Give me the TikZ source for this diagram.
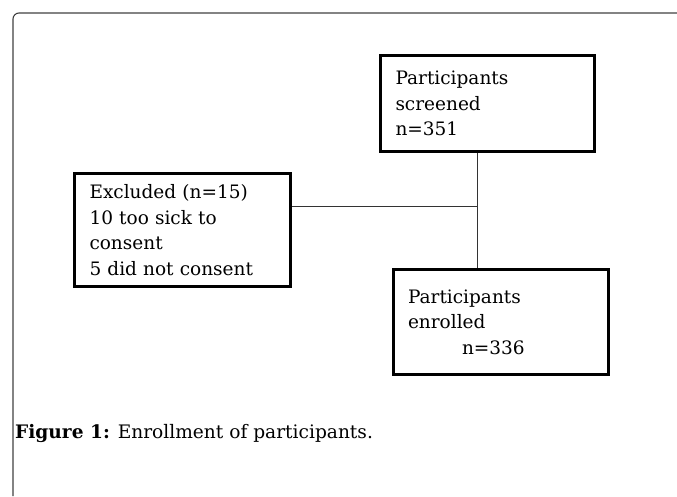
\documentclass[tikz,border=0pt]{standalone}
\usepackage{fontspec}
\setmainfont{DejaVu Serif}
\begin{document}
\begin{tikzpicture}[x=1pt,y=-1pt,
  flowbox/.style={draw=black,line width=3pt,rectangle,align=left,anchor=center,
    font=\fontsize{18.5}{25.5}\selectfont,inner xsep=0pt,inner ysep=0pt},
  conn/.style={draw=black!80,line width=1pt},
  frame/.style={draw=black!75,line width=1.1pt,rounded corners=6pt}]
\useasboundingbox (0,0) rectangle (677,496);
\draw[frame] (677,13) -- (13,13) -- (13,496);
\node[flowbox,minimum width=214pt,minimum height=96pt,text width=184pt] (screened) at (487.5,103.5)
  {Participants\\screened\\n=351};
\node[flowbox,minimum width=216pt,minimum height=113pt,text width=186pt] (excluded) at (182.5,230)
  {Excluded (n=15)\\10 too sick to\\consent\\5 did not consent};
\node[flowbox,minimum width=215pt,minimum height=105pt,text width=186pt] (enrolled) at (501,322)
  {Participants\\enrolled\\\hspace*{54pt}n=336};
\coordinate (j) at (477,206);
\draw[conn] (screened.south -| j) -- (enrolled.north -| j);
\draw[conn] (excluded.east |- j) -- (j);
\node[anchor=base west,inner sep=0pt,font=\fontsize{18.6}{22}\selectfont] (caption) at (15,438)
  {\textbf{Figure 1:} Enrollment of participants.};
\end{tikzpicture}
\end{document}
